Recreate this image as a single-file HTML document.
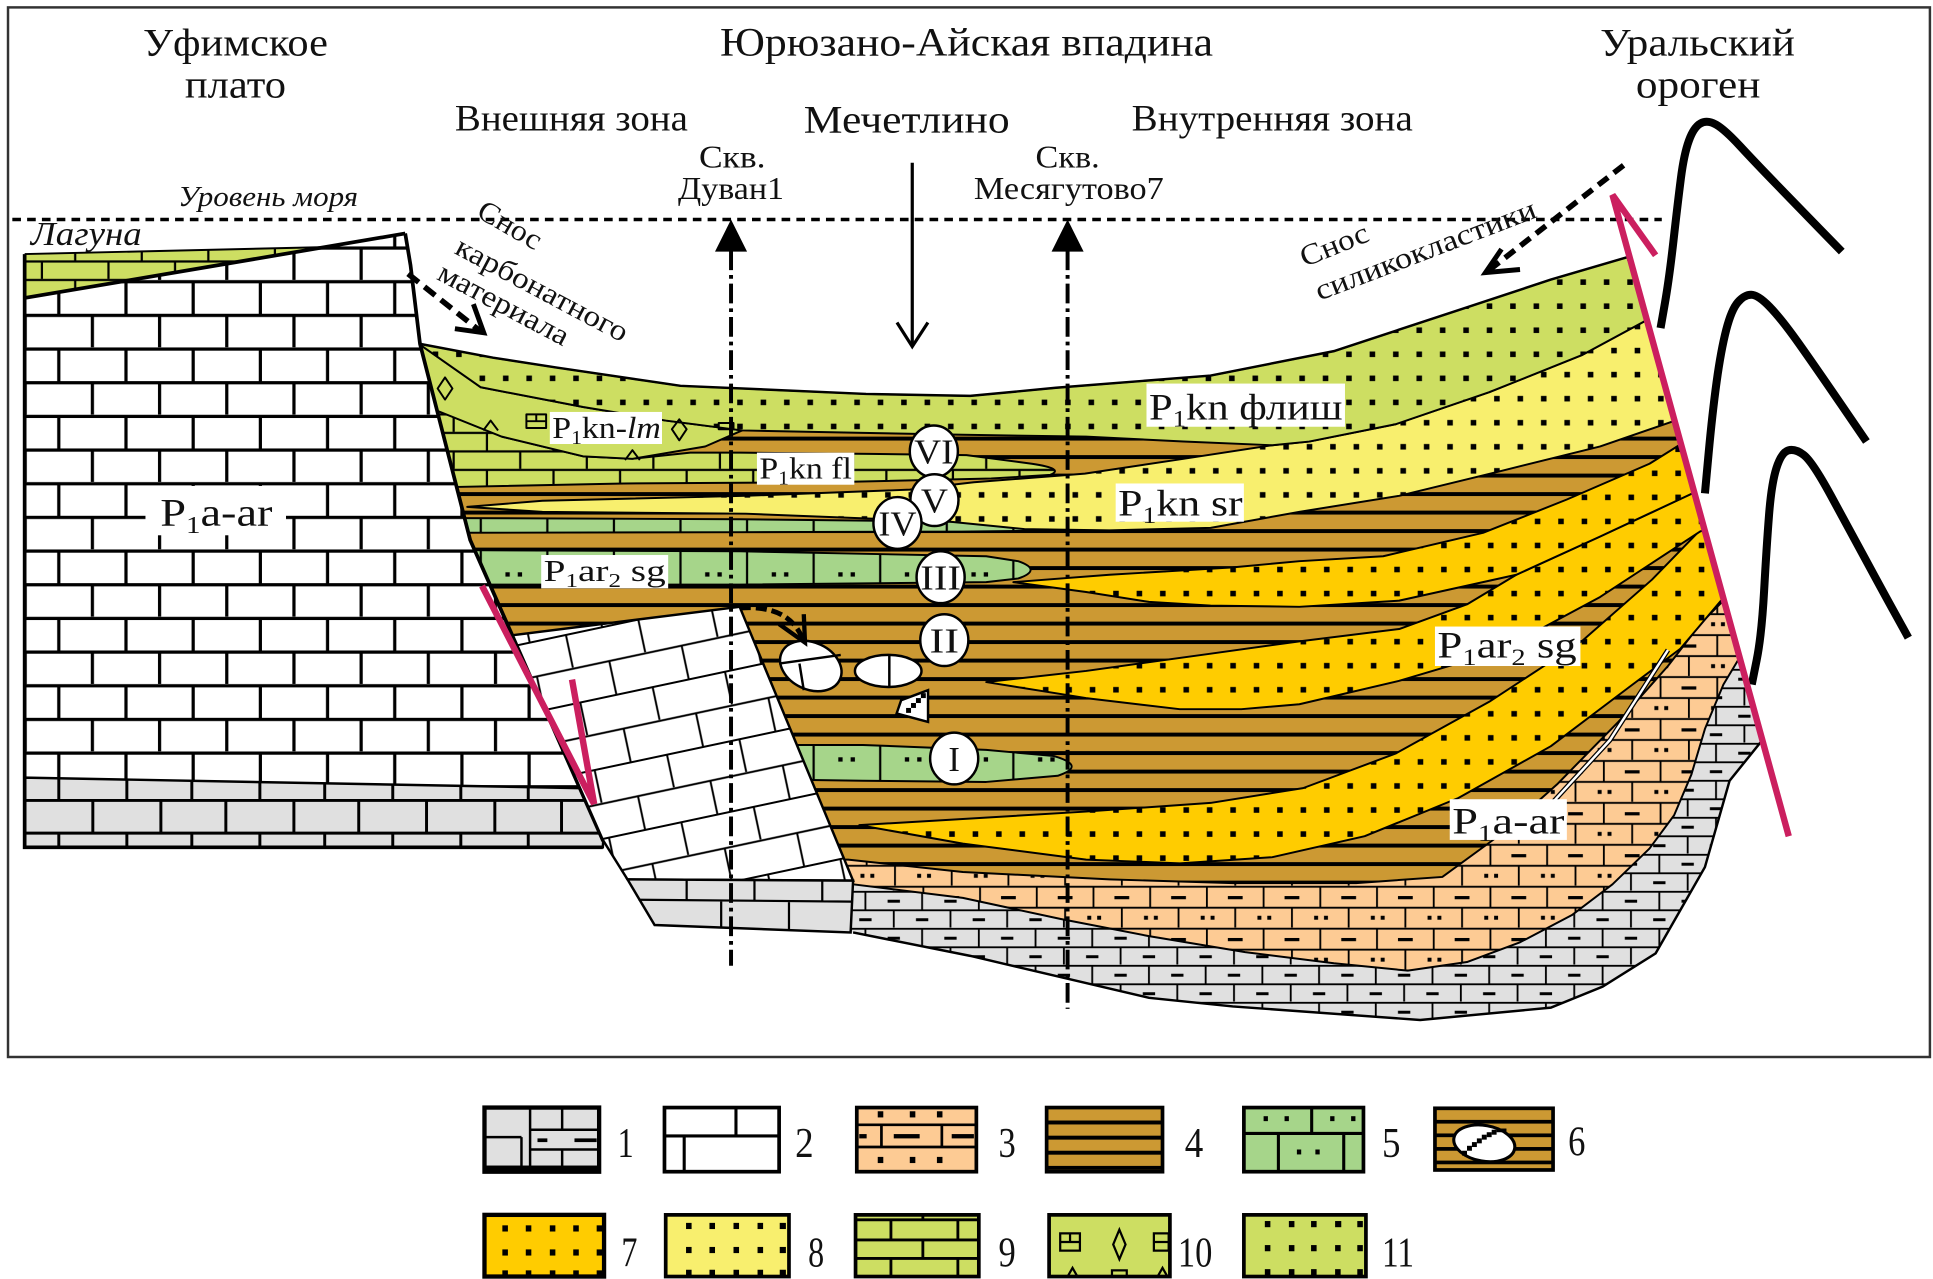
<!DOCTYPE html>
<html><head><meta charset="utf-8"><style>html,body{margin:0;padding:0;background:#fff;}svg{display:block}</style></head>
<body>
<svg xmlns="http://www.w3.org/2000/svg" width="1933" height="1279" viewBox="0 0 1568 1037" preserveAspectRatio="none" font-family="'Liberation Serif', 'Noto Serif CJK SC', serif">
<defs>
  <pattern id="pBrown" patternUnits="userSpaceOnUse" width="20" height="15" y="9">
    <rect width="20" height="15" fill="#CC9933"/><rect width="20" height="3.2" fill="#000"/>
  </pattern>
  <pattern id="pY7" patternUnits="userSpaceOnUse" width="19" height="19.5" x="3" y="4">
    <rect width="19" height="19.5" fill="#FFCC00"/><rect x="7" y="7" width="4.5" height="4.5" fill="#000"/>
  </pattern>
  <pattern id="pY8" patternUnits="userSpaceOnUse" width="19" height="19.5" x="8" y="2">
    <rect width="19" height="19.5" fill="#F8EF6E"/><rect x="7" y="7" width="4.5" height="4.5" fill="#000"/>
  </pattern>
  <pattern id="p11" patternUnits="userSpaceOnUse" width="19" height="19.5" x="2" y="5">
    <rect width="19" height="19.5" fill="#CDDE62"/><rect x="7" y="7" width="4.5" height="4.5" fill="#000"/>
  </pattern>
  <pattern id="p9" patternUnits="userSpaceOnUse" width="54" height="30" x="5" y="20">
    <rect width="54" height="30" fill="#CDDE62"/>
    <path d="M0 1H54M0 16H54M12 1V16M39 16V30" stroke="#000" stroke-width="1.8" fill="none"/>
  </pattern>
  <pattern id="pLag" patternUnits="userSpaceOnUse" width="54" height="30" x="-5" y="196">
    <rect width="54" height="30" fill="#CDDE62"/>
    <path d="M0 1H54M0 16H54M12 1V16M39 16V30" stroke="#000" stroke-width="1.8" fill="none"/>
  </pattern>
  <pattern id="p5" patternUnits="userSpaceOnUse" width="54" height="30" x="10" y="2">
    <rect width="54" height="30" fill="#A6D58A"/>
    <path d="M2 0V30" stroke="#000" stroke-width="1.8"/>
    <rect x="22" y="12" width="3.5" height="3.5" fill="#000"/><rect x="32" y="12" width="3.5" height="3.5" fill="#000"/>
  </pattern>
  <pattern id="pPeach" patternUnits="userSpaceOnUse" width="46" height="34" x="3" y="4">
    <rect width="46" height="34" fill="#FDCB94"/>
    <path d="M0 1H46M0 18H46M10 1V18M33 18V34" stroke="#000" stroke-width="1.5" fill="none"/>
    <rect x="27" y="8.5" width="12" height="2.6" fill="#000"/>
    <rect x="5" y="24.5" width="3.2" height="3.2" fill="#000"/><rect x="13" y="24.5" width="3.2" height="3.2" fill="#000"/>
  </pattern>
  <pattern id="pGray" patternUnits="userSpaceOnUse" width="46" height="30" x="0" y="2">
    <rect width="46" height="30" fill="#E0E0E0"/>
    <path d="M0 1H46M0 16H46M12 1V16M35 16V30" stroke="#000" stroke-width="1.5" fill="none"/>
    <rect x="30" y="7.5" width="10" height="2.4" fill="#000"/><rect x="7" y="22.5" width="10" height="2.4" fill="#000"/>
  </pattern>
  <pattern id="pBrick2" patternUnits="userSpaceOnUse" width="54.5" height="54.6" x="37.7" y="226.9">
    <rect width="54.5" height="54.6" fill="#fff"/>
    <path d="M0 1.5H54.5M0 28.8H54.5M10 1.5V28.8M37.25 28.8V54.6" stroke="#000" stroke-width="2.6" fill="none"/>
  </pattern>
  <pattern id="pTilt" patternUnits="userSpaceOnUse" width="60" height="56" x="0" y="10" patternTransform="rotate(-12)">
    <rect width="60" height="56" fill="#fff"/>
    <path d="M0 1H60M0 29H60M12 1V29M42 29V56" stroke="#000" stroke-width="1.6" fill="none"/>
  </pattern>
  <clipPath id="basin">
    <path d="M340.7,278.8 L400,290 L451.6,298 L552,312.8 L702.5,319.4 L787,321 L856.5,314.4 L982,304.5 L1082,284.7 L1182.6,251.6 L1258,226.7 L1321.7,208 L1430,600 L1428,602 L1403,633 L1383,703 L1343,773 L1300,800 L1258,817 L1152,827 L1000,816 L932,809 L787,775 L692,756 L531,750 L489,681 L381.4,437.8 Z"/>
  </clipPath>
</defs>

<rect width="1568" height="1037" fill="#fff"/>
<rect x="6.5" y="6" width="1559" height="851" fill="none" stroke="#333" stroke-width="2"/>

<!-- Titles -->
<g fill="#111">
  <text x="116" y="45" font-size="32" textLength="150" lengthAdjust="spacingAndGlyphs">Уфимское</text>
  <text x="150" y="79" font-size="32" textLength="82" lengthAdjust="spacingAndGlyphs">плато</text>
  <text x="584" y="45" font-size="33" textLength="400" lengthAdjust="spacingAndGlyphs">Юрюзано-Айская впадина</text>
  <text x="1298" y="45" font-size="32" textLength="158" lengthAdjust="spacingAndGlyphs">Уральский</text>
  <text x="1327" y="79" font-size="32" textLength="101" lengthAdjust="spacingAndGlyphs">ороген</text>
  <text x="369" y="106" font-size="30" textLength="189" lengthAdjust="spacingAndGlyphs">Внешняя зона</text>
  <text x="652" y="107.6" font-size="32" textLength="167" lengthAdjust="spacingAndGlyphs">Мечетлино</text>
  <text x="918" y="106" font-size="30" textLength="228" lengthAdjust="spacingAndGlyphs">Внутренняя зона</text>
  <text x="567" y="135.7" font-size="26" textLength="54" lengthAdjust="spacingAndGlyphs">Скв.</text>
  <text x="550" y="161.5" font-size="26" textLength="86" lengthAdjust="spacingAndGlyphs">Дуван1</text>
  <text x="840" y="135.7" font-size="26" textLength="52" lengthAdjust="spacingAndGlyphs">Скв.</text>
  <text x="790" y="161.5" font-size="26" textLength="154" lengthAdjust="spacingAndGlyphs">Месягутово7</text>
  <text x="144.5" y="167" font-size="23" font-style="italic" textLength="146" lengthAdjust="spacingAndGlyphs">Уровень моря</text>
  <text x="25" y="198.6" font-size="27" font-style="italic" textLength="90" lengthAdjust="spacingAndGlyphs">Лагуна</text>
</g>

<!-- sea level -->
<line x1="10" y1="178" x2="1348" y2="178" stroke="#000" stroke-width="2.8" stroke-dasharray="7 5"/>

<!-- Basin layers -->
<g clip-path="url(#basin)" stroke="#000" stroke-width="1.6" stroke-linejoin="round">
  <rect x="300" y="100" width="1200" height="760" fill="url(#pGray)" stroke="none"/>
  <path fill="url(#pPeach)" d="M300,717 L692,717 L781,728 L860,745 L932,759 L1010,772 L1082,781 L1142,787 L1190,780 L1233,764 L1275,742 L1308,717 L1338,688 L1358,661 L1372,628 L1383,591 L1398,555 L1410,535 L1460,500 L1460,100 L300,100 Z"/>
  <path fill="url(#pBrown)" d="M300,697 L688,697 L781,707 L900,713 L1000,716 L1100,716 L1170,711 L1218,676 L1263,636 L1313,585 L1353,540 L1380,505 L1398,487 L1460,440 L1460,100 L300,100 Z"/>
  <path fill="url(#pY7)" d="M697,669 L781,664 L881,658 L982,651 L1057,639 L1132,611 L1208,569 L1283,520 L1340,470 L1377,432 L1460,380 L1460,470 L1396,487 L1363,526 L1323,556 L1258,605 L1183,647 L1107,678 L1032,695 L957,700 L881,697 L781,684 Z"/>
  <path fill="url(#pY7)" d="M800,553 L881,544 L982,530 L1054,520 L1135,510 L1190,490 L1230,466 L1298,435 L1375,399 L1460,360 L1460,400 L1379,431 L1298,484 L1216,528 L1135,552 L1054,571 L1007,575 L957,575 L881,566 Z"/>
  <path fill="url(#pY7)" d="M822,472 L900,466 L1000,460 L1054,455 L1122,451 L1203,432 L1271,405 L1338,376 L1362,361 L1460,320 L1460,360 L1375,399 L1298,435 L1230,466 L1135,487 L1054,492 L982,491 L932,488 L881,480 Z"/>
  <path fill="url(#p5)" d="M630,604 L700,604 L800,608 L855,613 Q882,621 858,629 L800,634 L700,633 L630,632 Z"/>
  <path fill="url(#p5)" d="M360,446 L600,447 L800,451 L826,455 Q846,462 826,469 L800,472 L600,474 L360,474 Z"/>
  <path fill="url(#p5)" d="M360,420 L600,421 L780,423 L826,424 Q842,427 830,430.5 L780,431 L600,431.5 L360,432 Z"/>
  <path fill="url(#pY8)" d="M379,411 L440,406 L605,402 L738,397 L790,391 L880,384 L960,372 L1032,361 L1062,358 L1132,344 L1208,318 L1283,288 L1335,260 L1460,200 L1460,300 L1356,342 L1298,362 L1217,382 L1135,402 L1054,415 L982,428 L900,430 L831,429 L771,423 L605,416.5 L440,415 Z"/>
  <path fill="url(#p9)" d="M320,325 L345,329 L407,354 L473,370 L513,372 L560,367 L600,367 L705,368 L784,369 L837,376 Q864,380 852,385 L804,388 L672,391 L506,392 L361,395 L320,395 Z"/>
  <path fill="#CDDE62" d="M320,270 L340,279 L390,314 L473,330 L540,341 L602,349 L572,362 L513,372 L473,370 L407,354 L347,330 L320,322 Z"/>
  <path fill="url(#p11)" d="M320,275 L340.7,278.8 L400,290 L451.6,298 L552,312.8 L702.5,319.4 L787,321 L856.5,314.4 L982,304.5 L1082,284.7 L1182.6,251.6 L1258,226.7 L1321.7,208 L1460,160 L1460,232 L1400,232 L1335,260 L1283,288 L1208,318 L1132,344 L1062,358 L1032,361 L960,358 L881,354 L781,352.5 L700,351 L602,349 L540,341 L473,330 L390,314 L340,279 Z"/>
  <!-- symbols in lens 10 -->
  <g fill="none" stroke="#000" stroke-width="1.6">
    <path d="M361,306 L367,315 L361,324 L355,315 Z"/>
    <path d="M551,340 L557,348 L551,357 L545,348 Z"/>
    <path d="M392,349 L398,341 L404,349"/>
    <path d="M507,373 L513,365 L519,373"/>
    <rect x="427" y="336" width="16" height="11"/>
    <path d="M427,341.5H443M435,336V341.5"/>
    <rect x="583" y="343" width="12" height="5"/>
  </g>
  <!-- white leader line -->
  <path d="M1353,527 L1306,600 L1260,650" fill="none" stroke="#000" stroke-width="4"/>
  <path d="M1353,527 L1306,600 L1260,650" fill="none" stroke="#fff" stroke-width="2"/>
</g>

<!-- basin outer strokes -->
<path d="M340.7,278.8 L400,290 L451.6,298 L552,312.8 L702.5,319.4 L787,321 L856.5,314.4 L982,304.5 L1082,284.7 L1182.6,251.6 L1258,226.7 L1321.7,208" fill="none" stroke="#000" stroke-width="2"/>
<path d="M1430,600 L1428,602 L1403,633 L1383,703 L1343,773 L1300,800 L1258,817 L1152,827 L1000,816 L932,809 L787,775 L692,756" fill="none" stroke="#000" stroke-width="2"/>

<!-- Left block (Уфимское плато) -->
<path d="M20,206 L263,200.4 L328.7,189.3 L333,215 L340.7,278.8 L381.4,437.8 L489.3,682 L489,687 L20,687 Z" fill="url(#pBrick2)"/>
<path d="M20,630.5 L470,639 L489.3,682 L489,687 L20,687 Z" fill="#E0E0E0" stroke="#000" stroke-width="2"/>
<path d="M20,649 H476 M20,675.5 H486.5" stroke="#000" stroke-width="2.4"/>
<path d="M47.7,631 V649 M102.9,631.5 V649 M155.6,632.5 V649 M210.8,633.5 V649 M263.4,634.5 V649 M318.6,635.5 V649 M373.8,636.5 V649 M428.5,637.5 V649
         M75.3,649 V675.5 M130.5,649 V675.5 M183.2,649 V675.5 M238.4,649 V675.5 M291,649 V675.5 M346,649 V675.5 M401.4,649 V675.5 M455.5,649 V675.5
         M47.7,675.5 V687 M102.9,675.5 V687 M155.6,675.5 V687 M210.8,675.5 V687 M263.4,675.5 V687 M318.6,675.5 V687 M373.8,675.5 V687 M428.5,675.5 V687" stroke="#000" stroke-width="2.4"/>
<path d="M20,206 L263,200.4 L20,241.6 Z" fill="url(#pLag)"/>
<path d="M20,206 L263,200.4" stroke="#000" stroke-width="1.6"/>
<path d="M20,241.6 L328.7,189.3" stroke="#000" stroke-width="3"/>
<path d="M20,206 L20,687 L489,687 M328.7,189.3 L333,215 L340.7,278.8 L381.4,437.8 L489.3,682" fill="none" stroke="#000" stroke-width="3"/>

<!-- Middle tilted block -->
<path d="M416,515 L600,492 L692,714 L509,713 L489,681 Z" fill="url(#pTilt)" stroke="#000" stroke-width="2"/>
<path d="M509,713 L692,714 L690,756 L531,750 Z" fill="#E0E0E0" stroke="#000" stroke-width="2"/>
<path d="M518,729.5 L691,731 M557,713 V730 M612,713.5 V730 M667,714 V731 M585,730 V752 M640,731 V754" stroke="#000" stroke-width="1.8"/>

<!-- Pebbles -->
<g stroke="#000" stroke-width="2" fill="#fff">
  <ellipse cx="657.7" cy="540" rx="26" ry="19" transform="rotate(25 657.7 540)"/>
  <path d="M632,538 L682,531 M648.5,538 L652,559.6" fill="none"/>
  <ellipse cx="720.5" cy="544" rx="27" ry="13"/>
  <path d="M721.4,531 V557" fill="none"/>
  <path d="M731,567.7 L752.8,559.6 L752.8,585.3 L727.3,578.5 Z"/>
</g>
<g fill="#000">
  <rect x="743" y="566" width="4" height="4"/><rect x="739" y="570" width="4" height="4"/><rect x="735" y="574" width="4" height="4"/><rect x="747" y="562" width="4" height="4"/>
</g>
<path d="M600,493 Q640,490 651,518" fill="none" stroke="#000" stroke-width="4" stroke-dasharray="9 4"/>
<path d="M632,506 L653,521 L652,498" fill="none" stroke="#000" stroke-width="3.5"/>

<!-- Wells -->
<line x1="593" y1="203" x2="593" y2="783" stroke="#000" stroke-width="3.2" stroke-dasharray="16 4 3 4"/>
<path d="M593,178 L580,204 L606,204 Z" fill="#000"/>
<line x1="866" y1="203" x2="866" y2="818" stroke="#000" stroke-width="3.2" stroke-dasharray="16 4 3 4"/>
<path d="M866,178 L853,204 L879,204 Z" fill="#000"/>
<!-- Mechetlino arrow -->
<line x1="740" y1="132" x2="740" y2="279" stroke="#000" stroke-width="2.6"/>
<path d="M727.6,261.5 L740,281 L752.7,261.5" fill="none" stroke="#000" stroke-width="2.6"/>

<!-- Dashed supply arrows -->
<line x1="331" y1="222" x2="389" y2="268" stroke="#000" stroke-width="4.5" stroke-dasharray="11 6"/>
<path d="M369,266.5 L392.4,269.8 L384,246.6" fill="none" stroke="#000" stroke-width="4"/>
<line x1="1317" y1="134" x2="1208" y2="219" stroke="#000" stroke-width="4.5" stroke-dasharray="10 6"/>
<path d="M1233,218.5 L1205,221 L1218,202" fill="none" stroke="#000" stroke-width="4"/>

<!-- rotated texts -->
<g fill="#111" font-size="24">
  <text transform="translate(414,182) rotate(30)" text-anchor="middle" dy="0.35em" textLength="56" lengthAdjust="spacingAndGlyphs">Снос</text>
  <text transform="translate(440,234) rotate(28)" text-anchor="middle" dy="0.35em" textLength="155" lengthAdjust="spacingAndGlyphs">карбонатного</text>
  <text transform="translate(409,246) rotate(28)" text-anchor="middle" dy="0.35em" textLength="117" lengthAdjust="spacingAndGlyphs">материала</text>
  <text transform="translate(1082,198) rotate(-22)" text-anchor="middle" dy="0.35em" textLength="58" lengthAdjust="spacingAndGlyphs">Снос</text>
  <text transform="translate(1156,202) rotate(-21)" text-anchor="middle" dy="0.35em" textLength="190" lengthAdjust="spacingAndGlyphs">силикокластики</text>
</g>

<!-- Orogen -->
<g fill="none" stroke="#000" stroke-width="6.5">
  <path d="M1347,266 L1350.5,246 Q1354,226 1357.5,195 Q1361,164 1363.5,144.5 Q1366,125 1370,114 Q1374,103 1379.5,100 Q1385,97 1392,101 Q1399,105 1411.5,118.5 Q1424,132 1441.5,150 Q1459,168 1476.5,186 L1494,204"/>
  <path d="M1383,400 L1386,367.5 Q1389,335 1392.5,309.5 Q1396,284 1400.25,267.5 Q1404.5,251 1409.75,245 Q1415,239 1420.5,239 Q1426,239 1435.5,248.75 Q1445,258.5 1459,278.25 Q1473,298 1493.5,328 L1514,358"/>
  <path d="M1421,555 L1425,535 Q1429,515 1431,479 Q1433,443 1435,417.5 Q1437,392 1441,379.5 Q1445,367 1450.5,365.25 Q1456,363.5 1463,368.75 Q1470,374 1485,401.5 Q1500,429 1513.5,454 Q1527,479 1537.5,498 L1548,517"/>
</g>

<!-- Red faults -->
<g fill="none" stroke="#CB1F5F" stroke-width="5.2">
  <path d="M391,475 L482,652 M464,551 L482,652"/>
  <path d="M1451,678 L1308,158 L1343,207"/>
</g>

<!-- Circles -->
<g fill="#fff" stroke="#000" stroke-width="2">
  <ellipse cx="757.5" cy="366" rx="19.5" ry="21"/>
  <ellipse cx="758" cy="405.5" rx="19.5" ry="21"/>
  <ellipse cx="728" cy="424" rx="19.5" ry="21"/>
  <ellipse cx="763" cy="468" rx="19.5" ry="21"/>
  <ellipse cx="766" cy="519" rx="19.5" ry="21"/>
  <ellipse cx="774" cy="615" rx="19.5" ry="21"/>
</g>
<g fill="#111" font-size="28" text-anchor="middle">
  <text x="757.5" y="376" textLength="32" lengthAdjust="spacingAndGlyphs">VI</text>
  <text x="758" y="415.5" textLength="22" lengthAdjust="spacingAndGlyphs">V</text>
  <text x="728" y="434" textLength="31" lengthAdjust="spacingAndGlyphs">IV</text>
  <text x="763" y="478" textLength="33" lengthAdjust="spacingAndGlyphs">III</text>
  <text x="766" y="529" textLength="24" lengthAdjust="spacingAndGlyphs">II</text>
  <text x="774" y="625">I</text>
</g>

<!-- Labels with white boxes -->
<g fill="#fff">
  <rect x="118" y="394" width="114" height="40"/>
  <rect x="1176" y="648" width="95" height="33"/>
  <rect x="930" y="311" width="161" height="35"/>
  <rect x="905" y="392" width="104" height="31"/>
  <rect x="1164" y="508" width="118" height="32"/>
  <rect x="439" y="450" width="103" height="27"/>
  <rect x="614" y="367" width="79" height="26"/>
  <rect x="446" y="334" width="91" height="26"/>
</g>
<g fill="#111">
  <text x="130" y="426" font-size="32" textLength="91" lengthAdjust="spacingAndGlyphs">P<tspan font-size="20" dy="6">1</tspan><tspan dy="-6">a-ar</tspan></text>
  <text x="1178" y="676" font-size="30" textLength="91" lengthAdjust="spacingAndGlyphs">P<tspan font-size="19" dy="6">1</tspan><tspan dy="-6">a-ar</tspan></text>
  <text x="932" y="340" font-size="30" textLength="157" lengthAdjust="spacingAndGlyphs">P<tspan font-size="19" dy="6">1</tspan><tspan dy="-6">kn флиш</tspan></text>
  <text x="907" y="418" font-size="30" textLength="101" lengthAdjust="spacingAndGlyphs">P<tspan font-size="19" dy="6">1</tspan><tspan dy="-6">kn sr</tspan></text>
  <text x="1166" y="533" font-size="30" textLength="113" lengthAdjust="spacingAndGlyphs">P<tspan font-size="19" dy="6">1</tspan><tspan dy="-6">ar</tspan><tspan font-size="19" dy="6">2</tspan><tspan dy="-6"> sg</tspan></text>
  <text x="441" y="471" font-size="25" textLength="99" lengthAdjust="spacingAndGlyphs">P<tspan font-size="16" dy="5">1</tspan><tspan dy="-5">ar</tspan><tspan font-size="16" dy="5">2</tspan><tspan dy="-5"> sg</tspan></text>
  <text x="616" y="388" font-size="25" textLength="75" lengthAdjust="spacingAndGlyphs">P<tspan font-size="16" dy="5">1</tspan><tspan dy="-5">kn fl</tspan></text>
  <text x="448" y="355" font-size="25" textLength="88" lengthAdjust="spacingAndGlyphs">P<tspan font-size="16" dy="5">1</tspan><tspan dy="-5">kn-</tspan><tspan font-style="italic">lm</tspan></text>
</g>

<!-- Legend -->
<g stroke="#000">
  <!-- 1 -->
  <rect x="393" y="898" width="93" height="52" fill="#E0E0E0" stroke-width="3.5"/>
  <rect x="393" y="945" width="93" height="5" fill="#000" stroke="none"/>
  <path d="M430,898V946 M456,898V916 M430,916H486 M393,922H423 M423,922V946 M430,932H486 M456,932V946" stroke-width="2" fill="none"/>
  <rect x="436" y="923" width="8" height="3" fill="#000" stroke="none"/>
  <rect x="466" y="923" width="18" height="3" fill="#000" stroke="none"/>
  <!-- 2 -->
  <rect x="539" y="898" width="93" height="52" fill="#fff" stroke-width="3"/>
  <path d="M539,921H632 M597,898V921 M555,921V950" stroke-width="2.5" fill="none"/>
  <!-- 3 -->
  <rect x="695" y="898" width="97" height="52" fill="#FDCB94" stroke-width="3"/>
  <path d="M695,912H792 M695,930H792 M715,912V930 M764,912V930" stroke-width="2.2" fill="none"/>
  <g fill="#000" stroke="none">
    <rect x="712" y="901" width="4.5" height="5"/><rect x="738" y="901" width="4.5" height="5"/><rect x="760" y="901" width="4.5" height="5"/>
    <rect x="725" y="919.5" width="21" height="3.5"/><rect x="697" y="919.5" width="6" height="3.5"/><rect x="772" y="919.5" width="18" height="3.5"/>
    <rect x="712" y="938" width="4.5" height="5"/><rect x="738" y="938" width="4.5" height="5"/><rect x="760" y="938" width="4.5" height="5"/>
  </g>
  <!-- 4 -->
  <rect x="849" y="898" width="94" height="52" fill="#CC9933" stroke-width="3"/>
  <g fill="#000" stroke="none">
    <rect x="849" y="908.5" width="94" height="3.2"/><rect x="849" y="920.8" width="94" height="3.2"/><rect x="849" y="933" width="94" height="3.2"/><rect x="849" y="945.3" width="94" height="3.2"/>
  </g>
  <!-- 5 -->
  <rect x="1009" y="898" width="97" height="52" fill="#A6D58A" stroke-width="3"/>
  <path d="M1009,919H1106 M1064,898V919 M1037,919V950 M1090,919V950" stroke-width="2.5" fill="none"/>
  <g fill="#000" stroke="none">
    <rect x="1025" y="905" width="3.5" height="4"/><rect x="1042" y="905" width="3.5" height="4"/>
    <rect x="1079" y="905" width="3.5" height="4"/><rect x="1096" y="905" width="3.5" height="4"/>
    <rect x="1052" y="932" width="3.5" height="4"/><rect x="1067" y="932" width="3.5" height="4"/>
  </g>
  <!-- 6 -->
  <rect x="1164" y="898.6" width="95.8" height="50" fill="#CC9933" stroke-width="3"/>
  <g fill="#000" stroke="none">
    <rect x="1164" y="908" width="95.8" height="3"/><rect x="1164" y="919" width="95.8" height="3"/><rect x="1164" y="930" width="95.8" height="3"/><rect x="1164" y="941" width="95.8" height="3"/>
  </g>
  <ellipse cx="1204" cy="927" rx="25" ry="14.5" transform="rotate(10 1204 927)" fill="#fff" stroke-width="2.5"/>
  <g fill="#000" stroke="none">
    <rect x="1186" y="933" width="4" height="4"/><rect x="1190" y="929" width="4" height="4"/><rect x="1194" y="926" width="4" height="4"/><rect x="1198" y="923" width="4" height="4"/><rect x="1202" y="920" width="4" height="4"/><rect x="1206" y="918" width="4" height="4"/><rect x="1210" y="916" width="4" height="4"/><rect x="1214" y="915" width="8" height="3"/>
  </g>
  <!-- 7 -->
  <rect x="393" y="985" width="97" height="50" fill="#FFCC00" stroke-width="3.5"/>
  <!-- 8 -->
  <rect x="540" y="985" width="100" height="50" fill="#F8EF6E" stroke-width="3"/>
  <!-- 9 -->
  <rect x="694" y="985" width="100" height="50" fill="#CDDE62" stroke-width="3"/>
  <path d="M694,989H794 M694,1005.3H794 M694,1020.3H794 M748.6,985V989 M722.7,989V1005.3 M777,989V1005.3 M748.6,1005.3V1020.3 M722.7,1020.3V1035 M777,1020.3V1035" stroke-width="2.3" fill="none"/>
  <!-- 10 -->
  <rect x="851" y="985" width="98" height="50" fill="#CDDE62" stroke-width="3"/>
  <g fill="none" stroke-width="1.8">
    <rect x="860" y="1000" width="16" height="14"/><path d="M860,1007H876 M868,1000V1007"/>
    <rect x="936" y="1000" width="12" height="14"/><path d="M936,1007H948"/>
    <path d="M908,997 L913,1009 L908,1021 L903,1009 Z"/>
    <path d="M866,1035 L870,1028 L874,1035 M939,1035 L943,1028 L947,1035"/>
    <rect x="902" y="1030" width="12" height="5"/>
  </g>
  <!-- 11 -->
  <rect x="1009" y="985" width="99" height="50" fill="#CDDE62" stroke-width="3"/>
</g>
<g fill="#000">
  <!-- 7 dots -->
  <rect x="407.5" y="993.5" width="4.5" height="5"/><rect x="426.5" y="993.5" width="4.5" height="5"/><rect x="446" y="993.5" width="4.5" height="5"/><rect x="465" y="993.5" width="4.5" height="5"/><rect x="484" y="993.5" width="4.5" height="5"/>
  <rect x="407.5" y="1013" width="4.5" height="5"/><rect x="426.5" y="1013" width="4.5" height="5"/><rect x="446" y="1013" width="4.5" height="5"/><rect x="465" y="1013" width="4.5" height="5"/><rect x="484" y="1013" width="4.5" height="5"/>
  <rect x="407.5" y="1030" width="4.5" height="5"/><rect x="426.5" y="1030" width="4.5" height="5"/><rect x="446" y="1030" width="4.5" height="5"/><rect x="465" y="1030" width="4.5" height="5"/><rect x="484" y="1030" width="4.5" height="5"/>
  <!-- 8 dots -->
  <rect x="556.5" y="991.5" width="4.5" height="5"/><rect x="575.5" y="991.5" width="4.5" height="5"/><rect x="595" y="991.5" width="4.5" height="5"/><rect x="614.5" y="991.5" width="4.5" height="5"/><rect x="632.5" y="991.5" width="5" height="5"/>
  <rect x="556.5" y="1011" width="4.5" height="5"/><rect x="575.5" y="1011" width="4.5" height="5"/><rect x="595" y="1011" width="4.5" height="5"/><rect x="614.5" y="1011" width="4.5" height="5"/><rect x="632.5" y="1011" width="5" height="5"/>
  <rect x="556.5" y="1029.5" width="4.5" height="5"/><rect x="575.5" y="1029.5" width="4.5" height="5"/><rect x="595" y="1029.5" width="4.5" height="5"/><rect x="614.5" y="1029.5" width="4.5" height="5"/><rect x="632.5" y="1029.5" width="5" height="5"/>
  <!-- 11 dots -->
  <rect x="1026" y="990" width="4.5" height="5"/><rect x="1045.5" y="990" width="4.5" height="5"/><rect x="1063.5" y="990" width="4.5" height="5"/><rect x="1083" y="990" width="5" height="5"/><rect x="1101" y="990" width="4.5" height="5"/>
  <rect x="1026" y="1009.5" width="4.5" height="5"/><rect x="1045.5" y="1009.5" width="4.5" height="5"/><rect x="1063.5" y="1009.5" width="4.5" height="5"/><rect x="1083" y="1009.5" width="4.5" height="5"/><rect x="1101" y="1009.5" width="4.5" height="5"/>
  <rect x="1026" y="1029" width="4.5" height="5"/><rect x="1045.5" y="1029" width="4.5" height="5"/><rect x="1063.5" y="1029" width="4.5" height="5"/><rect x="1083" y="1029" width="4.5" height="5"/><rect x="1101" y="1029" width="4.5" height="5"/>
</g>
<g fill="#111" font-size="34">
  <text x="501" y="938" textLength="13" lengthAdjust="spacingAndGlyphs">1</text>
  <text x="645" y="938" textLength="15" lengthAdjust="spacingAndGlyphs">2</text>
  <text x="810" y="938" textLength="14" lengthAdjust="spacingAndGlyphs">3</text>
  <text x="961" y="938" textLength="15" lengthAdjust="spacingAndGlyphs">4</text>
  <text x="1121" y="938" textLength="15" lengthAdjust="spacingAndGlyphs">5</text>
  <text x="1272" y="937" textLength="14" lengthAdjust="spacingAndGlyphs">6</text>
  <text x="504" y="1027" textLength="13" lengthAdjust="spacingAndGlyphs">7</text>
  <text x="655.5" y="1027" textLength="13" lengthAdjust="spacingAndGlyphs">8</text>
  <text x="810" y="1027" textLength="14" lengthAdjust="spacingAndGlyphs">9</text>
  <text x="955.5" y="1027" textLength="28" lengthAdjust="spacingAndGlyphs">10</text>
  <text x="1121" y="1027" textLength="26" lengthAdjust="spacingAndGlyphs">11</text>
</g>
</svg>
</body></html>
